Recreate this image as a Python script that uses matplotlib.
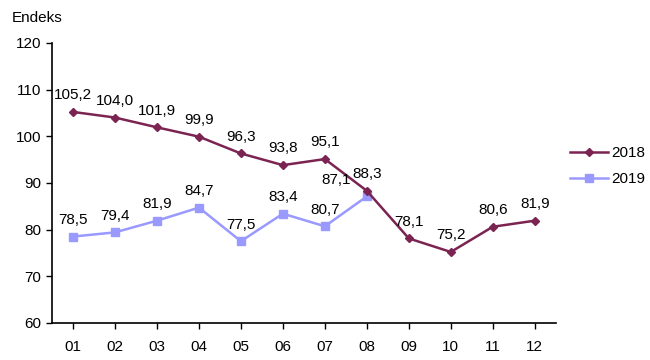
import matplotlib
matplotlib.use("Agg")
import matplotlib.pyplot as plt

plt.rcParams['font.family'] = ['Liberation Sans', 'DejaVu Sans']

months = ["01", "02", "03", "04", "05", "06", "07", "08", "09", "10", "11", "12"]
v2018 = [105.2, 104.0, 101.9, 99.9, 96.3, 93.8, 95.1, 88.3, 78.1, 75.2, 80.6, 81.9]
v2019 = [78.5, 79.4, 81.9, 84.7, 77.5, 83.4, 80.7, 87.1]
yticks = [60, 70, 80, 90, 100, 110, 120]

c18 = "#7B2452"
c19 = "#9999FF"
FS = 11

fig = plt.figure(figsize=(6.5, 3.6), dpi=100)
ax = fig.add_axes([0.08, 0.103, 0.775, 0.778])

x18 = list(range(1, len(v2018) + 1))
x19 = list(range(1, len(v2019) + 1))
ax.plot(x18, v2018, color=c18, lw=1.8, marker="D", ms=4.5, label="2018", zorder=3)
ax.plot(x19, v2019, color=c19, lw=1.8, marker="s", ms=5.5, label="2019", zorder=2)

def fmt(v):
    return f"{v:.1f}".replace(".", ",")

for x, v in zip(x18, v2018):
    ax.annotate(fmt(v), (x, v), xytext=(0, 7), textcoords="offset points",
                ha="center", va="bottom", fontsize=FS)
for x, v in zip(x19, v2019):
    dx = -22 if x == 8 else 0
    ax.annotate(fmt(v), (x, v), xytext=(dx, 7), textcoords="offset points",
                ha="center", va="bottom", fontsize=FS)

ax.set_xlim(0.5, 12.5)
ax.set_ylim(60, 120)
ax.set_xticks(x18)
ax.set_xticklabels(months)
ax.set_yticks(yticks)
ax.tick_params(labelsize=FS, length=4, width=1, color="black")
ax.tick_params(axis="x", pad=8)
for s in ["top", "right"]:
    ax.spines[s].set_visible(False)
for s in ["left", "bottom"]:
    ax.spines[s].set_linewidth(1.2)

fig.text(0.018, 0.95, "Endeks", fontsize=FS, va="center", ha="left")

ax.legend(loc="center left", bbox_to_anchor=(1.0, 0.56), frameon=False,
          fontsize=FS, handlelength=2.5, labelspacing=0.8, handletextpad=0.2)

fig.savefig("out.png", dpi=100)
